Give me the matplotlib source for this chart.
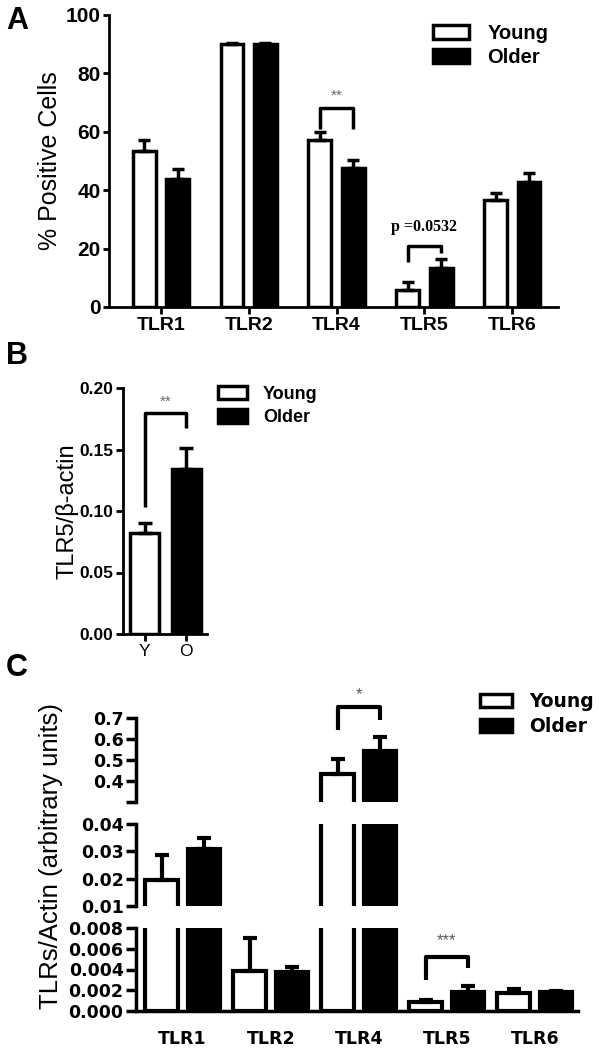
import numpy as np
import matplotlib
matplotlib.use("Agg")
import matplotlib.pyplot as plt
from matplotlib.patches import Patch

W, H = 602, 1049

# panel A: % positive cells
tlr_a = ["TLR1", "TLR2", "TLR4", "TLR5", "TLR6"]
young_a = [53.4, 90.0, 57.2, 5.8, 36.6]
young_a_err = [3.8, 0.4, 2.8, 2.8, 2.4]
older_a = [43.8, 90.0, 47.6, 13.4, 42.8]
older_a_err = [3.4, 0.4, 2.7, 3.0, 3.1]

# panel B: TLR5 / beta-actin
groups_b = ["Y", "O"]
tlr5_b = [0.082, 0.134]
tlr5_b_err = [0.008, 0.017]

# panel C: TLRs / actin
tlr_c = ["TLR1", "TLR2", "TLR4", "TLR5", "TLR6"]
young_c = [0.0195, 0.0039, 0.433, 0.00087, 0.0017]
young_c_err = [0.009, 0.0031, 0.072, 0.0002, 0.0004]
older_c = [0.031, 0.0038, 0.543, 0.0018, 0.0018]
older_c_err = [0.0037, 0.0004, 0.067, 0.0006, 0.0001]
c_segments = [(0.3, 0.7), (0.01, 0.04), (0.0, 0.008)]
c_ticks = [[0.3, 0.4, 0.5, 0.6, 0.7], [0.01, 0.02, 0.03, 0.04],
           [0.0, 0.002, 0.004, 0.006, 0.008]]
c_ticklabels = [["", "0.4", "0.5", "0.6", "0.7"],
                ["0.01", "0.02", "0.03", "0.04"],
                ["0.000", "0.002", "0.004", "0.006", "0.008"]]

plt.rcParams['font.family'] = ['Liberation Sans', 'DejaVu Sans']

fig = plt.figure(figsize=(W / 100, H / 100), dpi=100)


def px_axes(left, top, right, bottom):
    return fig.add_axes([left / W, 1 - bottom / H, (right - left) / W, (bottom - top) / H])


def px_fig(x, y):
    return x / W, 1 - y / H


def prism_style(ax, lw=2.0):
    for s in ("top", "right"):
        ax.spines[s].set_visible(False)
    for s in ("left", "bottom"):
        ax.spines[s].set_linewidth(lw)
    ax.tick_params(width=lw, length=6, direction="out")


def bracket(ax, x1, x2, ytop, yl, yr, lw=2.5):
    ax.plot([x1, x1, x2, x2], [yl, ytop, ytop, yr], color="k", lw=lw,
            solid_capstyle="butt", clip_on=False)


def legend(ax, anchor, fontsize, family=None, hl=1.8, hh=0.75, spacing=0.35):
    handles = [Patch(facecolor="white", edgecolor="k", lw=2.5, label="Young"),
               Patch(facecolor="k", edgecolor="k", lw=2.5, label="Older")]
    kw = dict(weight="bold", size=fontsize)
    if family:
        kw["family"] = family
    ax.legend(handles=handles, loc="upper left", bbox_to_anchor=px_fig(*anchor),
              bbox_transform=fig.transFigure, frameon=False, borderpad=0,
              borderaxespad=0, handlelength=hl, handleheight=hh,
              handletextpad=0.9, labelspacing=spacing, prop=kw)


# ---------------- panel A ----------------
ax = px_axes(109, 15, 558, 307)
x = np.arange(len(tlr_a))
off, bw = 0.19, 0.26
ax.bar(x - off, young_a, bw, color="white", edgecolor="k", lw=2.5, zorder=2)
ax.bar(x + off, older_a, bw, color="k", edgecolor="k", lw=2.5, zorder=2)
ax.errorbar(x - off, young_a, yerr=[np.zeros(5), young_a_err], fmt="none",
            ecolor="k", elinewidth=2.5, capsize=4.5, capthick=2.5, zorder=3)
ax.errorbar(x + off, older_a, yerr=[np.zeros(5), older_a_err], fmt="none",
            ecolor="k", elinewidth=2.5, capsize=4.5, capthick=2.5, zorder=3)
ax.set_xlim(-0.59, 4.52)
ax.set_ylim(0, 100)
ax.set_yticks([0, 20, 40, 60, 80, 100])
ax.set_xticks(x)
ax.set_xticklabels(tlr_a, fontsize=14, weight="bold")
for t in ax.get_yticklabels():
    t.set_fontsize(15)
    t.set_weight("bold")
prism_style(ax)
ax.tick_params(axis="y", length=4, pad=2)
ax.tick_params(axis="x", length=5, pad=2)
ax.set_ylabel("% Positive Cells", fontsize=18)
ax.yaxis.set_label_coords(-0.105, 0.5)
bracket(ax, 2 - off, 2 + off, 68, 61, 61)
ax.text(2, 72.5, "**", ha="center", va="center", fontsize=11, color="0.4")
bracket(ax, 3 - off, 3 + off, 21, 15.4, 18.5)
ax.text(3, 27.4, "p =0.0532", ha="center", va="center", fontsize=11.5,
        family="Liberation Serif", weight="bold")
legend(ax, (433, 24), 14.5, spacing=0.25)
fig.text(*px_fig(6, 21), "A", fontsize=22, weight="bold", va="center")

# ---------------- panel B ----------------
ax = px_axes(123, 388, 207, 634)
xb = np.arange(len(groups_b))
colors_b = ["white", "k"]
ax.bar(xb, tlr5_b, 0.69, color=colors_b, edgecolor="k", lw=2.5, zorder=2)
ax.errorbar(xb, tlr5_b, yerr=[np.zeros(2), tlr5_b_err], fmt="none",
            ecolor="k", elinewidth=2.5, capsize=5, capthick=2.5, zorder=3)
ax.set_xlim(-0.52, 1.5)
ax.set_ylim(0, 0.2)
ax.set_yticks([0, 0.05, 0.10, 0.15, 0.20])
ax.set_yticklabels(["0.00", "0.05", "0.10", "0.15", "0.20"], fontsize=12.5, weight="bold")
ax.set_xticks(xb)
ax.set_xticklabels(groups_b, fontsize=12.5)
prism_style(ax)
ax.tick_params(axis="y", length=5, pad=2)
ax.tick_params(axis="x", length=5, pad=2)
ax.set_ylabel("TLR5/\u03b2-actin", fontsize=17)
ax.yaxis.set_label_coords(-0.53, 0.5)
bracket(ax, 0, 1, 0.18, 0.103, 0.1675)
ax.text(0.5, 0.189, "**", ha="center", va="center", fontsize=11, color="0.4")
legend(ax, (218, 386), 13, hl=1.6, hh=0.75)
fig.text(*px_fig(6, 356), "B", fontsize=22, weight="bold", va="center")

# ---------------- panel C ----------------
seg_px = [(718, 802), (824, 906), (928, 1011)]
xc = np.arange(len(tlr_c))
offc, bwc = 0.24, 0.37
axes_c = []
for i, ((top, bottom), lims) in enumerate(zip(seg_px, c_segments)):
    ax = px_axes(136, top, 578, bottom)
    ax.bar(xc - offc, young_c, bwc, color="white", edgecolor="k", lw=3, zorder=2)
    ax.bar(xc + offc, older_c, bwc, color="k", edgecolor="k", lw=3, zorder=2)
    ax.errorbar(xc - offc, young_c, yerr=[np.zeros(5), young_c_err], fmt="none",
                ecolor="k", elinewidth=3, capsize=5, capthick=3, zorder=3)
    ax.errorbar(xc + offc, older_c, yerr=[np.zeros(5), older_c_err], fmt="none",
                ecolor="k", elinewidth=3, capsize=5, capthick=3, zorder=3)
    ax.set_xlim(-0.53, 4.49)
    ax.set_ylim(*lims)
    ax.set_yticks(c_ticks[i])
    ax.set_yticklabels(c_ticklabels[i], fontsize=12.5, weight="bold",
                       family="DejaVu Sans")
    prism_style(ax, lw=2.5)
    ax.tick_params(axis="y", length=7, pad=2)
    if i < 2:
        ax.spines["bottom"].set_visible(False)
        ax.set_xticks([])
    else:
        ax.set_xticks(xc)
        ax.set_xticklabels(tlr_c, fontsize=12.5, weight="bold", family="DejaVu Sans")
        ax.tick_params(axis="x", length=0, pad=14)
    axes_c.append(ax)

ax_top, ax_mid, ax_bot = axes_c
bracket(ax_top, 2 - offc, 2 + offc, 0.752, 0.643, 0.69, lw=3)
ax_top.text(2, 0.81, "*", ha="center", va="center", fontsize=12, color="0.35",
            clip_on=False)
bracket(ax_bot, 3 - offc, 3 + offc, 0.0052, 0.003, 0.0041, lw=3)
ax_bot.text(3, 0.0068, "***", ha="center", va="center", fontsize=12, color="0.35")
legend(ax_top, (480, 692), 13.5, family="DejaVu Sans", hl=1.7, hh=0.7, spacing=0.3)
fig.text(*px_fig(63, 856), "TLRs/Actin (arbitrary units)", fontsize=18.5,
         rotation=90, ha="right", va="center")
fig.text(*px_fig(6, 668), "C", fontsize=22, weight="bold", va="center")

fig.savefig("out.png", dpi=100)
